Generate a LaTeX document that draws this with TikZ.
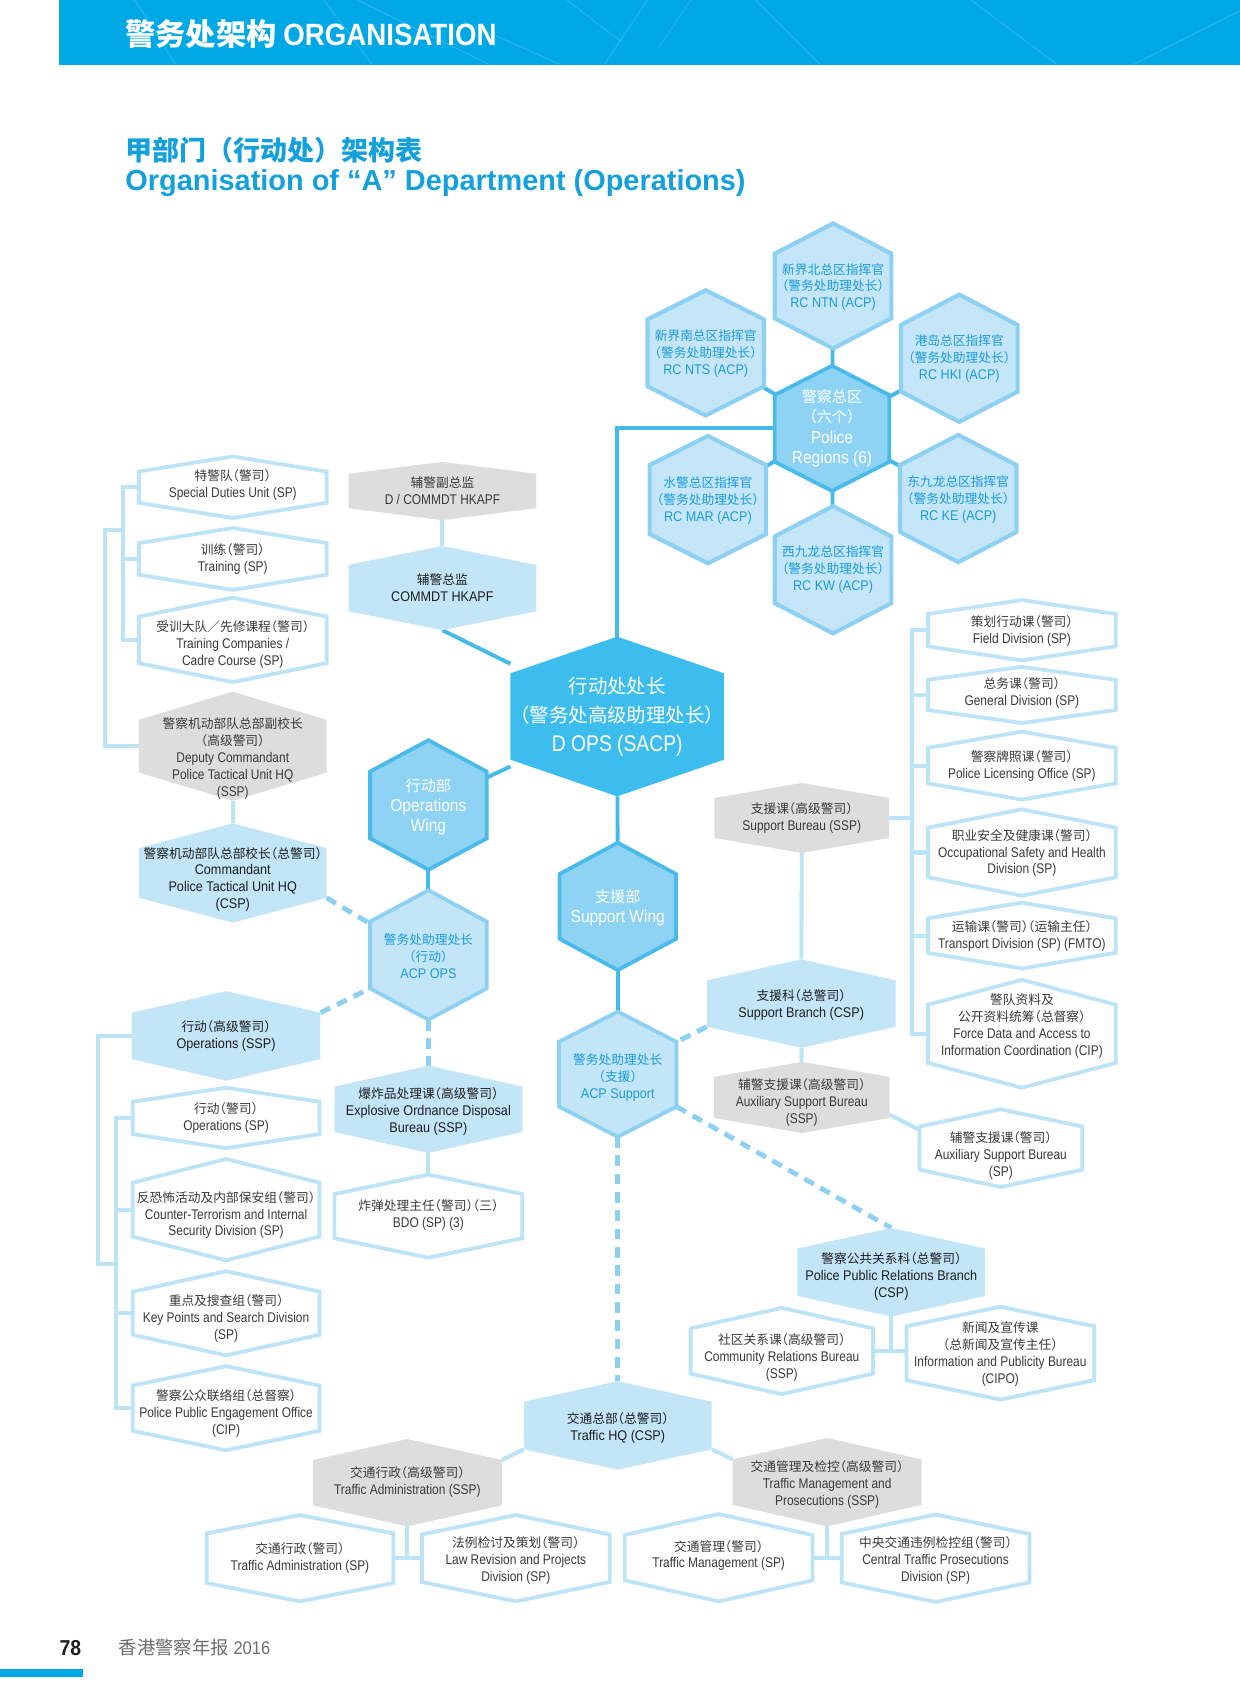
\documentclass[tikz,border=0pt]{standalone}
\usepackage{fontspec}
\setmainfont{Liberation Sans}
\newfontfamily\enL{Liberation Sans}[FakeStretch=0.85]
\newfontfamily\enR{Liberation Sans}[FakeStretch=0.9]
\newfontfamily\cjk{Noto Sans CJK SC}[RawFeature={+halt}]
\newfontfamily\cjkT{Noto Sans CJK SC}
\usetikzlibrary{calc}
\pgfdeclarelayer{bg}
\pgfsetlayers{bg,main}
\definecolor{hdr}{HTML}{00A8E6}
\definecolor{ttl}{HTML}{14A0DC}
\definecolor{cline}{HTML}{BDE3F7}
\definecolor{clight}{HTML}{C2E5F8}
\definecolor{creg}{HTML}{C4E6F8}
\definecolor{cstroke}{HTML}{8ED0F1}
\definecolor{cmid}{HTML}{8ED3F4}
\definecolor{cmidst}{HTML}{4ABAEA}
\definecolor{cbright}{HTML}{3CBDEE}
\definecolor{cgray}{HTML}{DDDDDD}
\definecolor{tgray}{HTML}{3A3A3A}
\definecolor{tblack}{HTML}{1E1E1E}
\definecolor{tblue}{HTML}{1C9BD8}
\definecolor{cbl}{HTML}{45B9EA}
\definecolor{cds}{HTML}{8DD0F2}
\definecolor{fgray}{HTML}{6D6D6D}
\newcommand\zhsz{\fontsize{11.8}{13}}
\newcommand\zh[1]{{\zhsz\cjk #1}}
\tikzset{
 txtS/.style={align=center, inner sep=0pt, font={\def\zhsz{\fontsize{11.8}{13}}\fontsize{13}{15.7}\selectfont\enL}},
 txtR/.style={align=center, inner sep=0pt, font={\def\zhsz{\fontsize{11.8}{13}}\fontsize{13}{15.7}\selectfont\enR}},
 txtM/.style={align=center, inner sep=0pt, font={\def\zhsz{\fontsize{14}{16}}\fontsize{16}{18.7}\selectfont\enR}},
 txtB/.style={align=center, inner sep=0pt, font={\def\zhsz{\fontsize{18}{20}}\fontsize{21}{27}\selectfont\enL}},
 anc/.style={inner sep=0pt, outer sep=0pt, draw=none, fill=none},
 wh/.style={fill=white, draw=cline, line width=3.5pt, line join=miter},
 wh-t/.style={txtS, text=tgray},
 gr/.style={fill=cgray},
 gr-t/.style={txtS, text=tgray},
 lb/.style={fill=clight},
 lb-t/.style={txtR, text=tblack},
 lbs/.style={fill=clight, draw=cstroke, line width=3.5pt, line join=miter},
 lbs-t/.style={txtR, text=tblue},
 reg/.style={fill=creg, draw=cstroke, line width=3.8pt, line join=miter},
 reg-t/.style={txtR, text=tblue},
 md/.style={fill=cmid, draw=cmidst, line width=3.5pt, line join=miter},
 md-t/.style={txtM, text=white},
 ctr/.style={fill=cbright},
 ctr-t/.style={txtB, text=white},
 bl/.style={draw=cbl, line width=3.6pt},
 lt/.style={draw=cline, line width=3.8pt},
 ds/.style={draw=cds, line width=4.5pt, dash pattern=on 10pt off 7pt},
}
% style, name, cx, cy, half width, half side, peak, text dy, text
\newcommand\hx[9]{%
  \path[#1] ({#3-#5},{#4-#6}) -- ({#3},{#4-#6-#7}) -- ({#3+#5},{#4-#6}) -- ({#3+#5},{#4+#6}) -- ({#3},{#4+#6+#7}) -- ({#3-#5},{#4+#6}) -- cycle;
  \node[anc, minimum width={2*#5}, minimum height={2*(#6+#7)}] (#2) at (#3,#4) {};
  \node[#1-t] at (#3,{#4+#8}) {#9};
}
\begin{document}
\begin{tikzpicture}[x=1pt,y=-1pt]
\useasboundingbox (0,0) rectangle (1149,1568);
% header
\fill[hdr] (55,0) rectangle (1149,60);
\begin{scope}[draw=white, opacity=0.13, line width=1.3pt]
\draw (125,0) -- (163,60);
\draw (300,0) -- (345,60);
\draw (331,0) -- (454,60);
\draw (430,20) -- (520,60);
\draw (525,0) -- (575,38);
\draw (560,60) -- (600,0);
\draw (610,45) -- (640,0);
\draw (700,0) -- (760,60);
\draw (900,0) -- (980,60);
\draw (1050,60) -- (1149,10);
\end{scope}
\node[anchor=base west, inner sep=0pt, text=white] (hd) at (116,42) {\fontsize{28}{28}\cjkT\bfseries 警务处架构 \fontsize{28.5}{28}\selectfont\enR\bfseries ORGANISATION};
\node[anchor=base west, inner sep=0pt, text=ttl] (t1) at (116,149) {\fontsize{25}{25}\cjkT\bfseries 甲部门（行动处）架构表};
\node[anchor=base west, inner sep=0pt, text=ttl] (t2) at (116,177) {\fontsize{26.8}{27}\selectfont\bfseries Organisation of “A” Department (Operations)};

% police regions
\hx{reg}{ntn}{772}{265}{54}{30}{28}{1}{\zh{新界北总区指挥官}\\\zh{（警务处助理处长）}\\RC NTN (ACP)}
\hx{reg}{nts}{654}{327}{54}{31}{27}{1}{\zh{新界南总区指挥官}\\\zh{（警务处助理处长）}\\RC NTS (ACP)}
\hx{reg}{hki}{889}{332}{54}{31}{28}{0}{\zh{港岛总区指挥官}\\\zh{（警务处助理处长）}\\RC HKI (ACP)}
\hx{reg}{mar}{656}{463}{54}{32}{27}{1}{\zh{水警总区指挥官}\\\zh{（警务处助理处长）}\\RC MAR (ACP)}
\hx{reg}{ke}{888}{462}{54}{31}{28}{1}{\zh{东九龙总区指挥官}\\\zh{（警务处助理处长）}\\RC KE (ACP)}
\hx{reg}{kw}{772}{528}{54}{31}{28}{0}{\zh{西九龙总区指挥官}\\\zh{（警务处助理处长）}\\RC KW (ACP)}
\hx{md}{pr}{771}{397}{53}{31}{27}{0}{\zh{警察总区}\\\zh{（六个）}\\Police\\Regions (6)}

% centre
\hx{ctr}{dops}{572}{664}{99}{40}{34}{0}{\zh{行动处处长}\\\zh{（警务处高级助理处长）}\\D OPS (SACP)}

% auxiliary
\hx{gr}{dcom}{410}{455}{87}{16}{11}{0}{\zh{辅警副总监}\\D / COMMDT HKAPF}
\hx{lb}{com}{410}{545}{87}{21.5}{17.5}{0}{\zh{辅警总监}\\COMMDT HKAPF}

% left top column
\hx{wh}{sdu}{215.7}{451.5}{87}{14.5}{14}{-2}{\zh{特警队（警司）}\\Special Duties Unit (SP)}
\hx{wh}{trn}{215.7}{518}{87}{14.7}{14}{0}{\zh{训练（警司）}\\Training (SP)}
\hx{wh}{tco}{215.7}{593}{87}{21.6}{17.5}{4}{\zh{受训大队／先修课程（警司）}\\Training Companies /\\Cadre Course (SP)}
\hx{gr}{dptu}{215.7}{691.5}{87}{24.5}{26}{11.5}{\zh{警察机动部队总部副校长}\\\zh{（高级警司）}\\Deputy Commandant\\Police Tactical Unit HQ\\(SSP)}
\hx{lb}{ptu}{215.7}{809}{87}{23}{23}{6}{\zh{警察机动部队总部校长（总警司）}\\Commandant\\Police Tactical Unit HQ\\(CSP)}

% operations wing
\hx{md}{opsw}{397}{746}{54}{31}{29}{2}{\zh{行动部}\\Operations\\Wing}
\hx{lbs}{acpo}{397}{885}{54}{31}{29}{1.5}{\zh{警务处助理处长}\\\zh{（行动）}\\ACP OPS}

\hx{lb}{ops}{209.5}{960}{87.5}{21.5}{20}{0}{\zh{行动（高级警司）}\\Operations (SSP)}
\hx{wh}{opsp}{209.5}{1036}{86.5}{15}{13}{0}{\zh{行动（警司）}\\Operations (SP)}
\hx{wh}{ct}{209.5}{1121}{86.5}{25}{22}{5}{\zh{反恐怖活动及内部保安组（警司）}\\Counter-Terrorism and Internal\\Security Division (SP)}
\hx{wh}{kp}{209.5}{1217}{86.5}{20}{19}{5}{\zh{重点及搜查组（警司）}\\Key Points and Search Division\\(SP)}
\hx{wh}{ppe}{209.5}{1305}{86.5}{21}{18}{5}{\zh{警察公众联络组（总督察）}\\Police Public Engagement Office\\(CIP)}

\hx{lb}{eod}{397}{1028}{87}{21}{19.5}{2}{\zh{爆炸品处理课（高级警司）}\\Explosive Ordnance Disposal\\Bureau (SSP)}
\hx{wh}{bdo}{397}{1127}{87}{20.5}{18}{-1}{\zh{炸弹处理主任（警司）（三）}\\BDO (SP) (3)}

% support wing
\hx{md}{sw}{572.5}{840}{54}{30}{29}{1}{\zh{支援部}\\Support Wing}
\hx{lbs}{acps}{572.5}{995.5}{54.5}{30}{28}{3.5}{\zh{警务处助理处长}\\\zh{（支援）}\\ACP Support}
\hx{gr}{sb}{743}{758}{81}{18.5}{14}{0}{\zh{支援课（高级警司）}\\Support Bureau (SSP)}
\hx{lb}{sbr}{742.5}{930}{87.5}{21.5}{19.5}{1}{\zh{支援科（总警司）}\\Support Branch (CSP)}
\hx{gr}{asb}{743}{1017}{81.5}{19}{14}{5}{\zh{辅警支援课（高级警司）}\\Auxiliary Support Bureau\\(SSP)}
\hx{wh}{asp}{927.5}{1064}{75.5}{20}{16}{7}{\zh{辅警支援课（警司）}\\Auxiliary Support Bureau\\(SP)}

\hx{wh}{fd}{947}{584}{87}{15}{13}{1}{\zh{策划行动课（警司）}\\Field Division (SP)}
\hx{wh}{gd}{947}{644}{87}{14}{12}{-1.5}{\zh{总务课（警司）}\\General Division (SP)}
\hx{wh}{plo}{947}{709.5}{87}{16.5}{15}{0}{\zh{警察牌照课（警司）}\\Police Licensing Office (SP)}
\hx{wh}{osh}{947}{790}{87}{23}{17}{0.5}{\zh{职业安全及健康课（警司）}\\Occupational Safety and Health\\Division (SP)}
\hx{wh}{td}{947}{867}{87}{16}{14.5}{0}{\zh{运输课（警司）（运输主任）}\\Transport Division (SP) (FMTO)}
\hx{wh}{fdaic}{947}{958}{87}{27}{23}{-7}{\zh{警队资料及}\\\zh{公开资料统筹（总督察）}\\Force Data and Access to\\Information Coordination (CIP)}

\hx{lb}{pprb}{826}{1179}{87}{22}{19}{4}{\zh{警察公共关系科（总警司）}\\Police Public Relations Branch\\(CSP)}
\hx{wh}{crb}{724.5}{1252}{84.5}{21}{19}{6}{\zh{社区关系课（高级警司）}\\Community Relations Bureau\\(SSP)}
\hx{wh}{ipb}{927}{1254}{87}{25}{18}{1}{\zh{新闻及宣传课}\\\zh{（总新闻及宣传主任）}\\Information and Publicity Bureau\\(CIPO)}

% traffic
\hx{lb}{thq}{572.5}{1321}{87}{22}{19}{2}{\zh{交通总部（总警司）}\\Traffic HQ (CSP)}
\hx{gr}{tas}{377.5}{1374}{87.5}{21}{19.5}{-1}{\zh{交通行政（高级警司）}\\Traffic Administration (SSP)}
\hx{wh}{tap}{278}{1444}{86.5}{23}{17}{0}{\zh{交通行政（警司）}\\Traffic Administration (SP)}
\hx{wh}{lrp}{478}{1444}{87}{22}{18}{2}{\zh{法例检讨及策划（警司）}\\Law Revision and Projects\\Division (SP)}
\hx{gr}{tmp}{766.5}{1373.5}{87.5}{21}{20}{2.5}{\zh{交通管理及检控（高级警司）}\\Traffic Management and\\Prosecutions (SSP)}
\hx{wh}{tm}{666}{1443.5}{87}{21}{19.5}{-2}{\zh{交通管理（警司）}\\Traffic Management (SP)}
\hx{wh}{ctp}{867}{1444}{87}{22.5}{18}{2.5}{\zh{中央交通违例检控组（警司）}\\Central Traffic Prosecutions\\Division (SP)}

% footer
\node[anchor=base west, inner sep=0pt, text=tblack] (pg) at (55,1534) {\fontsize{20}{20}\selectfont\enR\bfseries 78};
\node[anchor=base west, inner sep=0pt, text=fgray] (yr) at (110,1533) {\fontsize{17}{17}\cjkT 香港警察年报\selectfont\enR\ 2016};
\fill[hdr] (0,1546.5) rectangle (76.7,1554);

% connectors
\coordinate (b0) at (97,491);
\coordinate (b1) at (113.7,491);
\coordinate (c0) at (91,1171);
\coordinate (c1) at (107.5,1171);
\coordinate (r1) at (845,600);
\begin{pgfonlayer}{bg}
\foreach \n in {ntn,nts,hki,mar,ke,kw} \draw[bl, draw=cbl] (pr) -- (\n);
\draw[bl] (pr.west) -| (dops.north);
\draw[bl] (com.south) -- (dops);
\draw[bl] (opsw) -- (dops);
\draw[bl] (opsw) -- (acpo);
\draw[bl] (dops) -- (sw);
\draw[bl] (sw) -- (acps);

\draw[lt] (dcom) -- (com);
\draw[lt] (sdu.west) -- (sdu.west -| b1) -- (tco.west -| b1) -- (tco.west);
\draw[lt] (trn.west) -- (trn.west -| b1);
\draw[lt] (b1) -- (b0) -- (dptu.west -| b0) -- (dptu.west);
\draw[lt] (dptu) -- (ptu);

\draw[lt] (ops.west) -| (c0) -- (c1);
\draw[lt] (opsp.west) -- (opsp.west -| c1) -- (ppe.west -| c1) -- (ppe.west);
\draw[lt] (ct.west) -- (ct.west -| c1);
\draw[lt] (kp.west) -- (kp.west -| c1);
\draw[lt] (eod) -- (bdo);

\draw[lt] (fd.west) -- (fd.west -| r1) -- (fdaic.west -| r1) -- (fdaic.west);
\foreach \n in {gd,plo,osh,td} \draw[lt] (\n.west) -- (\n.west -| r1);
\draw[lt] (sb.east) -- (sb.east -| r1);
\draw[lt] (sb) -- (sbr);
\draw[lt] (sbr) -- (asb);
\draw[lt] ([yshift=-16pt]asb.east) -- ([yshift=17pt]asp.west);

\draw[lt] (pprb.south) -- (pprb.south |- crb.east);
\draw[lt] (crb.east) -- (crb.east -| ipb.west);

\draw[lt] ([yshift=21pt]tas.east) -- ([yshift=-22pt]thq.west);
\draw[lt] ([yshift=-22pt]thq.east) -- ([yshift=21pt]tmp.west);
\draw[lt] (tas.south) -- (tas.south |- tap.east);
\draw[lt] (tap.east) -- (lrp.west);
\draw[lt] (tmp.south) -- (tmp.south |- tm.east);
\draw[lt] (tm.east) -- (ctp.west);

\draw[ds] ([yshift=-23pt]ptu.east) -- ([yshift=29pt]acpo.west);
\draw[ds] ([yshift=21.5pt]ops.east) -- ([yshift=-31pt]acpo.west);
\draw[ds] (acpo.south) -- (eod.north);
\draw[ds] ([yshift=-21.5pt]sbr.west) -- ([yshift=30pt]acps.east);
\draw[ds] ([yshift=-30pt]acps.east) -- (pprb.north);
\draw[ds] (acps.south) -- (thq.north);
\end{pgfonlayer}
\end{tikzpicture}
\end{document}
